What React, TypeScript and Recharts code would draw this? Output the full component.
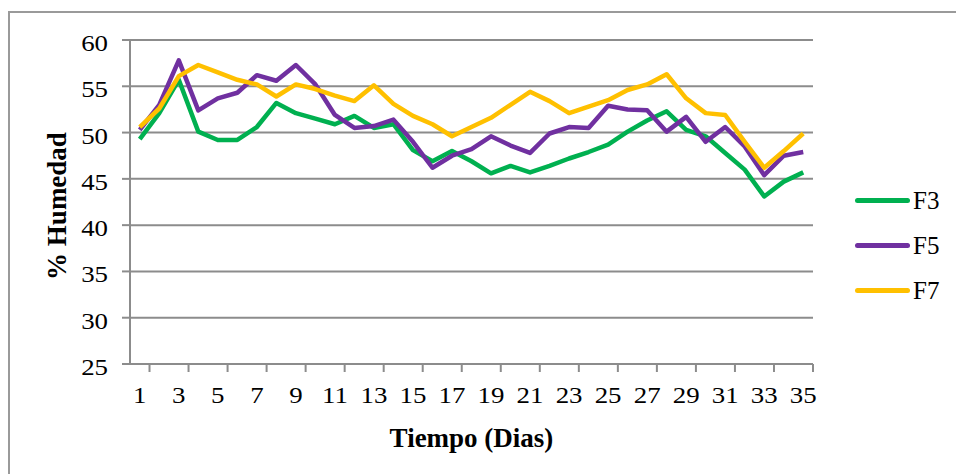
import React from 'react';
import { LineChart, Line, XAxis, YAxis, CartesianGrid, Legend } from 'recharts';

const days = [1, 2, 3, 4, 5, 6, 7, 8, 9, 10, 11, 12, 13, 14, 15, 16, 17, 18, 19, 20, 21, 22, 23, 24, 25, 26, 27, 28, 29, 30, 31, 32, 33, 34, 35];
const dayLabels = [1, 3, 5, 7, 9, 11, 13, 15, 17, 19, 21, 23, 25, 27, 29, 31, 33, 35];

const f3 = [49.3, 52.1, 55.7, 50.1, 49.2, 49.2, 50.6, 53.2, 52.1, 51.5, 50.9, 51.8, 50.5, 50.9, 48.1, 46.9, 48.0, 46.9, 45.6, 46.4, 45.7, 46.4, 47.2, 47.9, 48.7, 50.1, 51.3, 52.3, 50.3, 49.6, 47.8, 46.0, 43.1, 44.7, 45.7];
const f5 = [50.3, 53.0, 57.8, 52.4, 53.7, 54.3, 56.2, 55.6, 57.3, 55.2, 51.9, 50.5, 50.7, 51.4, 49.0, 46.2, 47.5, 48.2, 49.6, 48.6, 47.8, 49.9, 50.6, 50.5, 52.9, 52.5, 52.4, 50.1, 51.7, 49.0, 50.6, 48.5, 45.4, 47.5, 47.9];
const f7 = [50.6, 52.6, 56.1, 57.3, 56.5, 55.7, 55.2, 53.9, 55.2, 54.7, 54.0, 53.4, 55.1, 53.1, 51.8, 50.9, 49.6, 50.6, 51.6, 53.0, 54.4, 53.4, 52.1, 52.8, 53.5, 54.6, 55.2, 56.3, 53.7, 52.1, 51.9, 49.0, 46.2, 48.0, 49.9];

const yTicks = [25, 30, 35, 40, 45, 50, 55, 60];
const seriesNames = ['F3', 'F5', 'F7'];
const seriesColors = ['#00B050', '#7030A0', '#FFC000'];
const xTitle = 'Tiempo (Dias)';
const yTitle = '% Humedad';

const data = days.map((d, i) => ({ day: d, F3: f3[i], F5: f5[i], F7: f7[i] }));
const boundaryTicks = days.map((d) => d - 0.5).concat([days[days.length - 1] + 0.5]);
const xDomain = [boundaryTicks[0], boundaryTicks[boundaryTicks.length - 1]];

const FONT = '"Liberation Serif", "Times New Roman", serif';
const GRID = '#8c8c8c';
const TICK_SIZE = 24;
const STRETCH = 1.12;

const renderLegend = (props: any) => {
  const payload = props.payload || [];
  return (
    <div style={{ fontFamily: FONT, fontSize: 25, color: '#000' }}>
      {payload.map((p: any) => (
        <div key={p.value} style={{ display: 'flex', alignItems: 'center', height: 45 }}>
          <div style={{ width: 55, height: 5, borderRadius: 3, background: p.color, marginRight: 3 }} />
          <span>{p.value}</span>
        </div>
      ))}
    </div>
  );
};

const YTitle = () => (
  <text
    x={66}
    y={206}
    transform="rotate(-90, 66, 206)"
    textAnchor="middle"
    fontFamily={FONT}
    fontSize={27}
    fontWeight="bold"
    fill="#000"
  >
    {yTitle}
  </text>
);

const YTick = (props: any) => {
  const { x, y, payload } = props;
  return (
    <g transform={`translate(${x},${y}) scale(${STRETCH},1)`}>
      <text x={0} y={11} textAnchor="end" fontFamily={FONT} fontSize={TICK_SIZE} fill="#000">
        {payload.value}
      </text>
    </g>
  );
};

const XTick = (props: any) => {
  const { x, y, payload } = props;
  return (
    <g transform={`translate(${x},${y}) scale(${STRETCH},1)`}>
      <text x={0} y={17} textAnchor="middle" fontFamily={FONT} fontSize={TICK_SIZE} fill="#000">
        {payload.value}
      </text>
    </g>
  );
};

const NoTick = () => <g />;

export default function App() {
  return (
    <div style={{ position: 'fixed', left: 0, top: 0, width: 956, height: 474, overflow: 'hidden', background: '#fff' }}>
      <div
        style={{
          position: 'absolute',
          left: 8,
          top: 11,
          width: 1000,
          height: 1000,
          border: '2px solid #9a9a9a',
          boxSizing: 'border-box',
        }}
      />
      <div style={{ position: 'absolute', left: 0, top: 0 }}>
        <LineChart width={956} height={474} data={data} margin={{ top: 40, right: 143, bottom: 108, left: 70 }}>
          <CartesianGrid vertical={false} stroke={GRID} strokeWidth={2} />
          <XAxis
            type="number"
            dataKey="day"
            domain={xDomain}
            ticks={boundaryTicks}
            height={1}
            tick={<NoTick />}
            tickSize={8}
            stroke={GRID}
            strokeWidth={2}
            allowDataOverflow
          />
          <XAxis
            xAxisId="lab"
            type="number"
            dataKey="day"
            domain={xDomain}
            ticks={dayLabels}
            height={1}
            tickLine={false}
            axisLine={false}
            tickSize={8}
            tickMargin={13}
            tick={<XTick />}
            label={{ value: xTitle, position: 'bottom', offset: 62, fontFamily: FONT, fontSize: 27, fontWeight: 'bold', fill: '#000' }}
            allowDataOverflow
          />
          <YAxis
            domain={[25, 60]}
            ticks={yTicks}
            width={60}
            tickSize={8}
            tickMargin={14}
            stroke={GRID}
            strokeWidth={2}
            tick={<YTick />}
            label={<YTitle />}
          />
          <Legend
            layout="vertical"
            align="center"
            verticalAlign="middle"
            content={renderLegend}
            wrapperStyle={{ position: 'absolute', left: 855, top: 178, width: 100 }}
          />
          {seriesNames.map((n, i) => (
            <Line
              key={n}
              type="linear"
              dataKey={n}
              name={n}
              stroke={seriesColors[i]}
              strokeWidth={4.5}
              strokeLinejoin="round"
              dot={false}
              activeDot={false}
              isAnimationActive={false}
            />
          ))}
        </LineChart>
      </div>
    </div>
  );
}
